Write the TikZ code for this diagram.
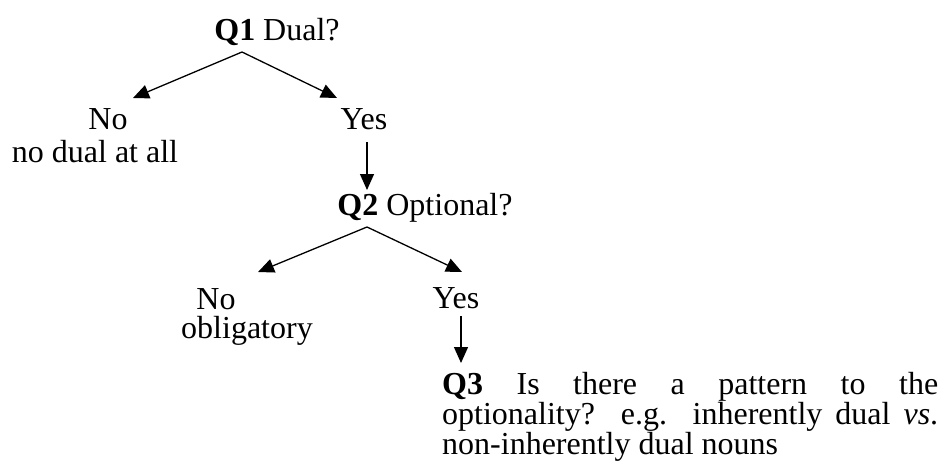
\documentclass[tikz,border=0pt]{standalone}
\usepackage{fontspec}
\setmainfont{Liberation Serif}
\usetikzlibrary{arrows.meta}
\begin{document}
\begin{tikzpicture}[x=1pt,y=-1pt,
    lbl/.style={anchor=base,inner sep=0pt,font=\fontsize{32}{29}\selectfont},
    arr/.style={-{Triangle[length=16pt,width=14pt]},line width=1.3pt}]
        \useasboundingbox (0,0) rectangle (942,461);

        % first question
        \node[lbl] (q1) at (277,40) {\textbf{Q1} Dual?};
        \node[lbl] (no1) at (108,129) {No};
        \node[lbl] (no1note) at (95,162) {no dual at all};
        \node[lbl] (yes1) at (364,129) {Yes};

        \coordinate (q1fork) at (242,52);
        \coordinate (no1tip) at (133,98);
        \coordinate (yes1tip) at (337,98);
        \draw[arr] (q1fork) -- (no1tip);
        \draw[arr] (q1fork) -- (yes1tip);

        \coordinate (yes1out) at (367,142);
        \coordinate (q2in) at (367,190);
        \draw[arr] (yes1out) -- (q2in);

        % second question
        \node[lbl] (q2) at (425,215) {\textbf{Q2} Optional?};
        \node[lbl] (no2) at (216,309) {No};
        \node[lbl] (no2note) at (247,338) {obligatory};
        \node[lbl] (yes2) at (456,308) {Yes};

        \coordinate (q2fork) at (367,227);
        \coordinate (no2tip) at (258,272);
        \coordinate (yes2tip) at (462,272);
        \draw[arr] (q2fork) -- (no2tip);
        \draw[arr] (q2fork) -- (yes2tip);

        \coordinate (yes2out) at (461,316);
        \coordinate (q3in) at (461,363);
        \draw[arr] (yes2out) -- (q3in);

        % third question
        \node[lbl,anchor=north west,text width=496pt,align=justify,
              font=\fontsize{32}{26.5}\selectfont] (q3) at (442,372)
            {\textbf{Q3} Is there a pattern to the\linebreak
             optionality? e.g. inherently dual \textit{vs}.\linebreak
             non-inherently dual nouns};
    \end{tikzpicture}
\end{document}
